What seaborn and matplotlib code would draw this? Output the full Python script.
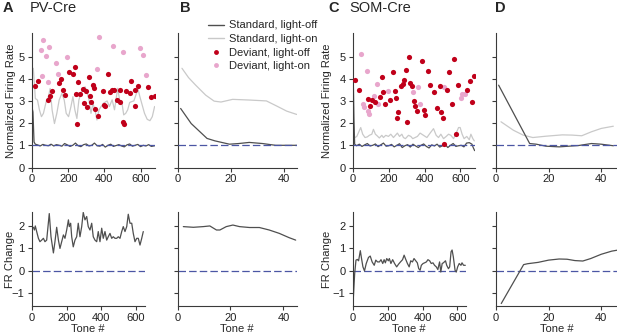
import matplotlib
matplotlib.use("Agg")
import matplotlib.pyplot as plt
import seaborn as sns
from matplotlib.lines import Line2D

# -------------------- data -------------------- #
# PV-Cre, normalized firing rate
a_std_off_x = [0, 5, 11, 18, 30, 45, 60, 75, 90, 105, 120, 135, 150, 165, 180, 195, 210, 225, 240, 255,
               270, 285, 300, 315, 330, 345, 360, 375, 390, 405, 420, 435, 450, 465, 480, 495, 510, 525,
               540, 555, 570, 585, 600, 615, 630, 645, 660, 678]
a_std_off_y = [2.7, 2.5, 1.15, 1.05, 1.02, 0.97, 1.04, 1.0, 0.98, 1.05, 0.97, 1.03, 1.0, 0.96, 1.08, 1.02,
               0.95, 1.0, 1.1, 0.98, 0.94, 1.03, 1.06, 0.97, 1.0, 1.1, 0.98, 0.96, 1.04, 0.92, 1.0, 1.05,
               0.95, 0.99, 1.03, 0.97, 0.93, 1.02, 1.06, 0.96, 1.0, 1.04, 0.94, 1.0, 0.97, 1.03, 0.95, 0.98]
a_std_on_x = [7, 13, 18, 30, 41, 52, 63, 78, 91, 100, 111, 124, 137, 150, 165, 178, 189, 202, 215, 226,
              237, 248, 259, 270, 281, 293, 304, 315, 326, 337, 348, 359, 370, 378, 396, 415, 428, 443,
              456, 467, 474, 485, 496, 507, 518, 529, 540, 552, 563, 578, 585, 596, 609, 622, 637, 652,
              665, 678]
a_std_on_y = [4.47, 3.79, 3.11, 3.04, 2.59, 2.29, 2.44, 2.96, 3.19, 3.56, 2.59, 1.98, 2.44, 3.04, 3.34,
              3.04, 2.44, 2.29, 2.74, 3.19, 2.59, 2.21, 3.04, 3.34, 3.49, 3.64, 3.41, 3.04, 2.44, 2.89,
              2.59, 2.14, 2.59, 2.7, 2.9, 3.0, 2.75, 3.05, 2.6, 3.2, 3.57, 3.0, 2.97, 2.37, 2.44, 2.6,
              2.93, 2.97, 3.0, 3.35, 3.57, 3.2, 2.82, 2.44, 2.17, 2.11, 2.29, 2.75]
a_dev_off_x = [16, 35, 87, 100, 112, 150, 162, 170, 183, 205, 226, 236, 243, 246, 253, 267, 281, 289,
               300, 303, 313, 318, 327, 337, 341, 350, 365, 391, 400, 405, 420, 433, 444, 455, 470, 487,
               489, 504, 507, 522, 539, 550, 569, 572, 585, 639, 656, 678]
a_dev_off_y = [3.68, 3.9, 3.04, 3.23, 3.44, 3.79, 3.97, 3.49, 3.26, 4.32, 4.21, 4.54, 3.29, 1.95, 3.83,
               3.29, 3.52, 2.89, 3.44, 2.71, 4.06, 3.22, 2.96, 3.71, 3.56, 2.63, 2.32, 3.45, 2.82, 2.75,
               4.22, 3.39, 3.47, 3.48, 3.02, 3.47, 2.96, 2.05, 1.96, 3.45, 3.35, 3.88, 3.5, 2.75, 3.65,
               3.62, 3.17, 3.2]
a_dev_on_x = [52, 57, 63, 76, 87, 93, 133, 141, 196, 339, 361, 372, 446, 502, 598, 615, 632]
a_dev_on_y = [5.29, 4.12, 5.74, 5.02, 3.83, 5.41, 4.72, 4.21, 4.99, 3.73, 4.42, 5.86, 5.46, 5.19, 5.38,
              5.08, 4.18]

# PV-Cre, FR change
a_chg_x = [8, 14, 19, 27, 37, 46, 56, 66, 75, 85, 100, 110, 124, 133, 143, 153, 162, 172, 182, 191,
           201, 211, 216, 224, 230, 239, 249, 259, 268, 278, 288, 297, 307, 317, 326, 336, 346, 355,
           365, 375, 384, 394, 404, 413, 423, 433, 442, 452, 462, 471, 481, 491, 500, 510, 520, 529,
           539, 549, 558, 568, 578, 587, 597, 607, 616, 626, 636, 645]
a_chg_y = [1.94, 1.82, 2.0, 1.75, 1.45, 1.3, 1.37, 1.45, 1.3, 1.37, 2.55, 1.52, 0.8, 1.3, 1.94, 1.37,
           1.0, 1.3, 1.6, 1.45, 1.82, 2.27, 1.97, 2.12, 1.52, 1.07, 1.37, 1.52, 2.12, 1.52, 1.97, 2.6,
           2.27, 2.42, 1.97, 1.82, 2.12, 1.52, 1.37, 1.3, 1.75, 1.3, 1.9, 1.45, 1.75, 1.37, 1.52, 1.67,
           1.45, 1.52, 1.45, 1.45, 1.52, 1.45, 1.75, 1.97, 1.75, 1.97, 2.52, 2.12, 2.12, 1.67, 1.3,
           1.45, 1.45, 1.15, 1.45, 1.75]

# PV-Cre, first tones
b_std_off_x = [1, 5, 11, 14, 19.5, 23, 27, 32, 37, 45]
b_std_off_y = [2.66, 1.98, 1.31, 1.2, 1.05, 1.08, 1.13, 1.08, 1.0, 1.0]
b_std_on_x = [1.5, 4, 6.7, 10.5, 13.7, 16.3, 20.7, 27, 33.5, 37.4, 41.2, 45]
b_std_on_y = [4.47, 4.05, 3.71, 3.26, 2.99, 2.95, 3.07, 3.04, 3.0, 2.77, 2.54, 2.39]
b_chg_x = [2.2, 6, 9.7, 12.2, 14.7, 16, 18.4, 20.9, 23.4, 27.2, 30.9, 34.6, 38.4, 42.1, 44.6]
b_chg_y = [1.97, 1.94, 1.97, 2.0, 1.82, 1.82, 1.97, 2.04, 1.97, 1.93, 1.93, 1.82, 1.67, 1.48, 1.37]

# SOM-Cre, normalized firing rate
c_std_off_x = [2, 5, 9, 20, 35, 50, 65, 80, 95, 110, 125, 140, 155, 170, 185, 200, 215, 230, 245, 260,
               275, 290, 305, 320, 335, 350, 365, 380, 395, 410, 425, 440, 455, 470, 485, 500, 515, 530,
               545, 560, 575, 590, 605, 620, 635, 650, 665, 672, 680]
c_std_off_y = [3.62, 2.2, 1.05, 0.98, 1.05, 0.95, 1.02, 1.08, 0.97, 1.0, 1.06, 0.94, 1.02, 1.1, 0.96,
               0.98, 1.04, 0.93, 1.0, 1.07, 0.9, 0.98, 1.03, 0.92, 1.05, 0.97, 0.9, 1.0, 1.06, 0.95,
               0.88, 1.02, 0.97, 1.05, 0.92, 0.98, 1.04, 0.9, 1.0, 1.08, 0.95, 0.98, 1.0, 0.93, 1.1,
               1.12, 1.05, 0.9, 0.76]
c_std_on_x = [11, 21, 32, 43, 54, 67, 80, 91, 105, 114, 125, 136, 147, 161, 170, 183, 198, 211, 226, 237,
              248, 260, 273, 282, 293, 310, 323, 334, 347, 360, 375, 394, 413, 431, 450, 465, 478, 491,
              506, 521, 534, 547, 562, 577, 590, 599, 610, 621, 636, 650, 659, 670, 678]
c_std_on_y = [1.35, 1.4, 1.6, 1.8, 1.5, 1.35, 1.38, 1.45, 1.5, 1.72, 1.5, 1.42, 1.33, 1.45, 1.35, 1.45,
              1.4, 1.5, 1.35, 1.45, 1.55, 1.4, 1.5, 1.35, 1.3, 1.45, 1.4, 1.3, 1.35, 1.4, 1.55, 1.45,
              1.35, 1.55, 1.75, 1.45, 1.35, 1.5, 1.3, 1.4, 1.5, 1.45, 1.3, 1.55, 1.8, 1.8, 1.5, 1.3,
              1.4, 1.25, 1.5, 1.3, 1.2]
c_dev_off_x = [13, 32, 82, 97, 108, 123, 148, 161, 170, 181, 205, 222, 235, 241, 245, 254, 267, 278, 286,
               295, 301, 312, 319, 330, 340, 347, 360, 388, 399, 404, 419, 430, 452, 467, 485, 491, 504,
               511, 524, 539, 552, 567, 573, 586, 640, 655, 664, 679]
c_dev_off_y = [3.93, 3.47, 3.08, 2.78, 3.02, 2.96, 3.17, 4.1, 3.39, 2.86, 3.06, 4.32, 3.44, 3.12, 2.21,
               2.48, 3.66, 3.77, 3.95, 4.41, 2.05, 4.98, 3.81, 3.69, 3.0, 2.78, 2.53, 4.81, 2.57, 2.36,
               4.33, 3.7, 3.42, 2.66, 3.66, 2.51, 2.24, 1.05, 3.51, 4.29, 2.85, 4.89, 1.49, 3.71, 3.5,
               3.89, 2.96, 4.14]
c_dev_on_x = [47, 54, 60, 77, 84, 90, 116, 133, 138, 194, 334, 362, 372, 506, 601, 612, 627]
c_dev_on_y = [5.1, 2.87, 2.72, 4.33, 2.54, 2.42, 3.21, 3.74, 2.87, 3.44, 3.39, 3.62, 2.88, 3.62, 3.14,
              3.29, 3.32]

# SOM-Cre, FR change
c_chg_x = [0, 9.5, 17, 25, 32, 42, 49, 57, 66, 76, 89, 99, 110, 122, 131, 141, 152, 161, 171, 179, 186,
           194, 203, 209, 218, 228, 239, 251, 262, 273, 285, 294, 304, 313, 323, 332, 342, 351, 361, 370,
           378, 386, 393, 403, 412, 422, 431, 441, 450, 460, 469, 479, 488, 498, 505, 513, 520, 532, 539,
           549, 556, 564, 570, 577, 587, 594, 602, 611, 621, 627, 636, 646]
c_chg_y = [-1.46, -0.12, 0.48, 0.51, 0.45, 0.9, 0.55, 0.18, 0.0, 0.33, 0.6, 0.66, 0.4, 0.25, 0.48, 0.4,
           0.4, 0.5, 0.33, 0.5, 0.36, 0.55, 0.45, 0.55, 0.33, 0.5, 0.33, 0.18, 0.3, 0.4, 0.5, 0.7, 0.5,
           0.33, 0.18, 0.45, 0.4, 0.55, 0.45, 0.36, 0.1, 0.03, 0.25, 0.33, 0.36, 0.4, 0.5, 0.45, 0.33,
           0.36, 0.25, 0.18, 0.06, 0.4, -0.05, 0.33, 0.36, 0.45, 0.25, 0.1, 0.18, 0.85, 0.93, 0.63,
           0.03, -0.05, 0.18, 0.33, 0.25, 0.36, 0.25, 0.25]

# SOM-Cre, first tones
d_std_off_x = [1, 12.8, 15.3, 19, 24, 27.7, 31.4, 36.3, 40, 44.6]
d_std_off_y = [3.71, 1.08, 1.05, 0.96, 0.93, 0.96, 0.99, 1.08, 1.05, 0.98]
d_std_on_x = [1.9, 6.6, 10.3, 14, 19, 25.2, 28.9, 32.6, 36.3, 40, 44.6]
d_std_on_y = [2.06, 1.68, 1.46, 1.35, 1.41, 1.47, 1.46, 1.43, 1.61, 1.76, 1.86]
d_chg_x = [2, 10.5, 12, 16, 20, 24, 27, 30, 33, 36, 40, 44, 46]
d_chg_y = [-1.45, 0.28, 0.32, 0.38, 0.48, 0.53, 0.52, 0.46, 0.44, 0.55, 0.74, 0.88, 0.92]

legend_labels = ["Standard, light-off", "Standard, light-on", "Deviant, light-off", "Deviant, light-on"]

# -------------------- style -------------------- #
DARK = "#4f4f4f"
LIGHT = "#c9c9c9"
RED = "#c0001a"
PINK = "#e8a6cc"
BLUE = "#4b56a4"
AXC = "#3a3a3a"

sns.set_theme(style="ticks")
plt.rcParams["font.family"] = ["Liberation Sans", "DejaVu Sans"]
plt.rcParams["axes.linewidth"] = 0.8
plt.rcParams["axes.edgecolor"] = AXC

W, H = 617, 334
fig = plt.figure(figsize=(W / 100, H / 100), dpi=100)


def px_axes(left, right, top, bottom):
    return fig.add_axes([left / W, 1 - bottom / H, (right - left) / W, (bottom - top) / H])


def style(ax, xlim, ylim, xticks, yticks, ylabels=True):
    ax.set_xlim(*xlim)
    ax.set_ylim(*ylim)
    ax.set_xticks(xticks)
    ax.set_yticks(yticks)
    if not ylabels:
        ax.set_yticklabels([])
    sns.despine(ax=ax)
    ax.tick_params(length=3, width=0.8, color=AXC, labelsize=8, pad=2, labelcolor="#222222")
    ax.set_xlabel("")
    ax.set_ylabel("")


def ylab(ax, text, x_px):
    # x_px: right edge of the rotated label in figure pixels
    ax.set_ylabel(text, fontsize=8)
    ax.yaxis.set_label_coords(x_px / W, 0.5, transform=fig.transFigure)
    ax.yaxis.label.set_y(ax.get_position().y0 + ax.get_position().height / 2)


def line(ax, x, y, color):
    sns.lineplot(x=x, y=y, ax=ax, color=color, linewidth=0.9, sort=False, estimator=None)


def dots(ax, x, y, color):
    sns.scatterplot(x=x, y=y, ax=ax, color=color, s=14, linewidth=0, zorder=4)


TOP_T, TOP_B = 33, 167.5
BOT_T, BOT_B = 212, 306
TOP_YLIM = (0, 6.06)
BOT_YLIM = (-1.56, 2.62)

# A
ax = px_axes(31.5, 155, TOP_T, TOP_B)
line(ax, a_std_on_x, a_std_on_y, LIGHT)
line(ax, a_std_off_x, a_std_off_y, DARK)
ax.axhline(1, color=BLUE, lw=0.9, dashes=(6, 2.5), zorder=3)
dots(ax, a_dev_on_x, a_dev_on_y, PINK)
dots(ax, a_dev_off_x, a_dev_off_y, RED)
style(ax, (-3, 680), TOP_YLIM, [0, 200, 400, 600], range(6))
ylab(ax, "Normalized Firing Rate", 16.5)

ax = px_axes(31.5, 145, BOT_T, BOT_B)
ax.axhline(0, color=BLUE, lw=0.9, dashes=(6, 2.5))
line(ax, a_chg_x, a_chg_y, DARK)
style(ax, (-3, 655), BOT_YLIM, [0, 200, 400, 600], [-1, 0, 1, 2])
ax.set_yticklabels(["\u22121", "0", "1", "2"])
ylab(ax, "FR Change", 15)
ax.set_xlabel("Tone #", fontsize=8, labelpad=1)

# B
ax = px_axes(178, 297, TOP_T, TOP_B)
line(ax, b_std_on_x, b_std_on_y, LIGHT)
line(ax, b_std_off_x, b_std_off_y, DARK)
ax.axhline(1, color=BLUE, lw=0.9, dashes=(6, 2.5), zorder=3)
style(ax, (0, 45.1), TOP_YLIM, [0, 20, 40], range(6), ylabels=False)

ax = px_axes(177.5, 297, BOT_T, BOT_B)
ax.axhline(0, color=BLUE, lw=0.9, dashes=(6, 2.5))
line(ax, b_chg_x, b_chg_y, DARK)
style(ax, (0, 45.1), BOT_YLIM, [0, 20, 40], [-1, 0, 1, 2], ylabels=False)
ax.set_xlabel("Tone #", fontsize=8, labelpad=1)

# C
ax = px_axes(352.5, 475, TOP_T, TOP_B)
line(ax, c_std_on_x, c_std_on_y, LIGHT)
line(ax, c_std_off_x, c_std_off_y, DARK)
ax.axhline(1, color=BLUE, lw=0.9, dashes=(6, 2.5), zorder=3)
dots(ax, c_dev_on_x, c_dev_on_y, PINK)
dots(ax, c_dev_off_x, c_dev_off_y, RED)
style(ax, (-3, 682), TOP_YLIM, [0, 200, 400, 600], range(6))
ylab(ax, "Normalized Firing Rate", 332)

ax = px_axes(352.5, 466, BOT_T, BOT_B)
ax.axhline(0, color=BLUE, lw=0.9, dashes=(6, 2.5))
line(ax, c_chg_x, c_chg_y, DARK)
style(ax, (-3, 650), BOT_YLIM, [0, 200, 400, 600], [-1, 0, 1, 2])
ax.set_yticklabels(["\u22121", "0", "1", "2"])
ylab(ax, "FR Change", 332)
ax.set_xlabel("Tone #", fontsize=8, labelpad=1)

# D
ax = px_axes(496, 617, TOP_T, TOP_B)
line(ax, d_std_on_x, d_std_on_y, LIGHT)
line(ax, d_std_off_x, d_std_off_y, DARK)
ax.axhline(1, color=BLUE, lw=0.9, dashes=(6, 2.5), zorder=3)
style(ax, (0, 46), TOP_YLIM, [0, 20, 40], range(6), ylabels=False)

ax = px_axes(496, 617, BOT_T, BOT_B)
ax.axhline(0, color=BLUE, lw=0.9, dashes=(6, 2.5))
line(ax, d_chg_x, d_chg_y, DARK)
style(ax, (0, 46), BOT_YLIM, [0, 20, 40], [-1, 0, 1, 2], ylabels=False)
ax.set_xlabel("Tone #", fontsize=8, labelpad=1)

# panel letters and titles
for x, letter in [(3, "A"), (180, "B"), (328, "C"), (495, "D")]:
    fig.text(x / W, 1 - 12.5 / H, letter, fontsize=10.5, fontweight="bold", va="baseline")
fig.text(30 / W, 1 - 12.5 / H, "PV-Cre", fontsize=10.5, va="baseline")
fig.text(349 / W, 1 - 12.5 / H, "SOM-Cre", fontsize=10.5, va="baseline")

# legend
handles = [
    Line2D([], [], color=DARK, lw=1),
    Line2D([], [], color=LIGHT, lw=1),
    Line2D([], [], color=RED, marker="o", ls="", ms=3.5, mew=0),
    Line2D([], [], color=PINK, marker="o", ls="", ms=3.5, mew=0),
]
fig.legend(handles, legend_labels, loc="upper left", bbox_to_anchor=(208 / W, 1 - 20.5 / H),
           frameon=False, fontsize=8, handlelength=1.4, handletextpad=0.5, labelspacing=0.32,
           borderaxespad=0, borderpad=0)

fig.savefig("out.png", dpi=100)
